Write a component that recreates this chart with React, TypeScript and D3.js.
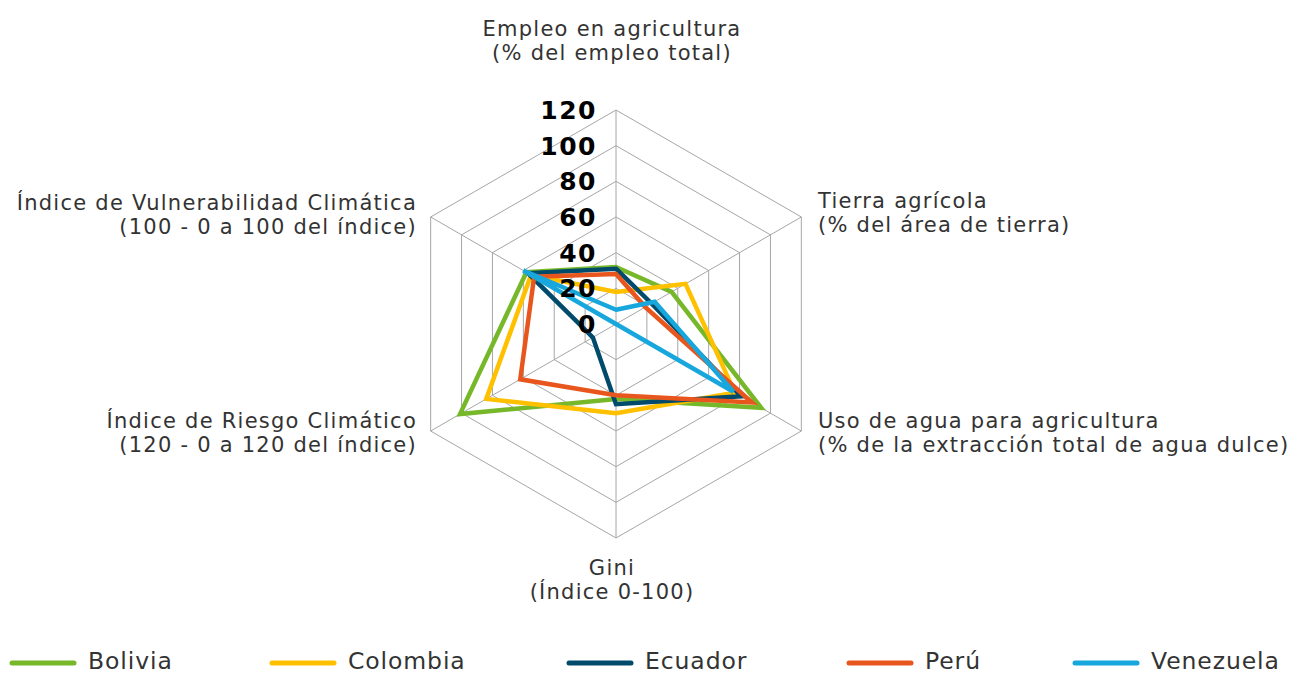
import React from "react";
import * as d3 from "d3";

const axes = [
  ["Empleo en agricultura", "(% del empleo total)"],
  ["Tierra agrícola", "(% del área de tierra)"],
  ["Uso de agua para agricultura", "(% de la extracción total de agua dulce)"],
  ["Gini", "(Índice 0-100)"],
  ["Índice de Riesgo Climático", "(120 - 0 a 120 del índice)"],
  ["Índice de Vulnerabilidad Climática", "(100 - 0 a 100 del índice)"],
];
const ticks = [0, 20, 40, 60, 80, 100, 120];
const countries = ["Bolivia", "Colombia", "Ecuador", "Perú", "Venezuela"];
const bolivia = [32, 36, 94, 42, 101, 58];
const colombia = [18, 45, 77, 50, 84, 55];
const ecuador = [31, 23, 81, 45, 15, 57];
const peru = [28, 19, 88, 40, 62, 53];
const venezuela = [8, 25, 76, 0, 0, 60];
const seriesValues = [bolivia, colombia, ecuador, peru, venezuela];
const colors = ["#77b82a", "#ffc000", "#004b6b", "#e8561e", "#17a7dd"];

const W = 1291, H = 676;
const cx = 616, cy = 324;
const R = 214;
const FONT = "'DejaVu Sans', Verdana, sans-serif";

export default function App() {
  const r = d3.scaleLinear().domain([0, 120]).range([0, R]);
  const angle = d3.scaleLinear().domain([0, axes.length]).range([0, 2 * Math.PI]);
  const pt = (i: number, v: number): [number, number] => {
    const a = angle(i);
    return [cx + r(v) * Math.sin(a), cy - r(v) * Math.cos(a)];
  };
  const lineGen = d3.line<[number, number]>().curve(d3.curveLinearClosed);
  const idx = d3.range(axes.length);

  const labelPos: { x: number; y: number; anchor: string }[] = [
    { x: 612, y: 36, anchor: "middle" },
    { x: 818, y: 208, anchor: "start" },
    { x: 818, y: 428, anchor: "start" },
    { x: 612, y: 575, anchor: "middle" },
    { x: 417, y: 428, anchor: "end" },
    { x: 417, y: 210, anchor: "end" },
  ];

  const legendX = [10, 270, 567, 847, 1073];
  const legendY = 662;

  return (
    <svg width={W} height={H} style={{ position: "absolute", left: 0, top: 0, background: "#fff" }}>
      {ticks.slice(1).map((t) => (
        <path
          key={t}
          d={lineGen(idx.map((i) => pt(i, t))) || ""}
          fill="none"
          stroke="#a6a6a6"
          strokeWidth={1}
        />
      ))}
      {idx.map((i) => {
        const [x, y] = pt(i, 120);
        return <line key={i} x1={cx} y1={cy} x2={x} y2={y} stroke="#a6a6a6" strokeWidth={1} />;
      })}
      {seriesValues.map((vals, s) => (
        <path
          key={s}
          d={lineGen(vals.map((v, i) => pt(i, v))) || ""}
          fill="none"
          stroke={colors[s]}
          strokeWidth={4.5}
          strokeLinejoin="miter"
        />
      ))}
      {ticks.map((t) => (
        <text
          key={t}
          x={597}
          y={cy - r(t)}
          dy="0.36em"
          textAnchor="end"
          fontFamily={FONT}
          fontWeight="bold"
          fontSize={25}
          letterSpacing={1.5}
          fill="#000"
        >
          {t}
        </text>
      ))}
      {axes.map((lines, i) => (
        <text
          key={i}
          x={labelPos[i].x}
          y={labelPos[i].y}
          textAnchor={labelPos[i].anchor}
          fontFamily={FONT}
          fontSize={21}
          letterSpacing={1.25}
          fill="#333"
        >
          <tspan x={labelPos[i].x}>{lines[0]}</tspan>
          <tspan x={labelPos[i].x} dy={24}>{lines[1]}</tspan>
        </text>
      ))}
      {countries.map((c, s) => (
        <g key={c}>
          <line
            x1={legendX[s] + 2}
            x2={legendX[s] + 64}
            y1={legendY + 1}
            y2={legendY + 1}
            stroke={colors[s]}
            strokeWidth={5}
            strokeLinecap="round"
          />
          <text
            x={legendX[s] + 78}
            y={legendY}
            dy="0.3em"
            fontFamily={FONT}
            fontSize={23.5}
            letterSpacing={0.9}
            fill="#333"
          >
            {c}
          </text>
        </g>
      ))}
    </svg>
  );
}
